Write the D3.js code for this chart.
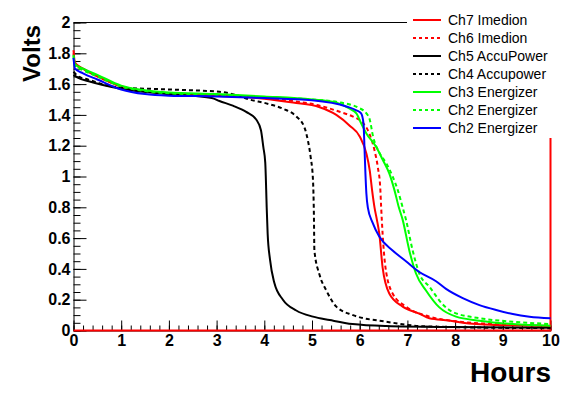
<!DOCTYPE html>
<html>
<head>
<meta charset="utf-8">
<script src="https://cdn.jsdelivr.net/npm/d3@7"></script>
<style>
  body { margin: 0; background: #fff; }
  svg text { font-family: "Liberation Sans", Arial, Helvetica, sans-serif; }
</style>
</head>
<body>
<svg id="chart" width="587" height="394"></svg>
<script>
// [hours, volts]
const ch7Imedion = [[0,1.82],[0.03,1.74],[0.2,1.70],[0.5,1.65],[1,1.585],[1.5,1.555],[2,1.54],[3,1.525],[4,1.505],[4.6,1.48],[5.16,1.45],[5.51,1.40],[5.79,1.33],[6.0,1.26],[6.14,1.15],[6.21,1.04],[6.26,0.91],[6.31,0.80],[6.36,0.72],[6.41,0.63],[6.48,0.41],[6.62,0.24],[6.90,0.155],[7.25,0.11],[7.46,0.08],[7.88,0.065],[8.16,0.05],[8.86,0.036],[10,0.03]];
const ch6Imedion = [[0,1.80],[0.03,1.73],[0.2,1.70],[0.5,1.65],[1,1.585],[1.5,1.555],[2,1.54],[3,1.53],[4,1.51],[4.6,1.49],[5.16,1.46],[5.58,1.42],[5.85,1.39],[6.06,1.35],[6.2,1.28],[6.31,1.17],[6.38,1.06],[6.43,0.93],[6.45,0.80],[6.48,0.63],[6.54,0.41],[6.69,0.24],[6.97,0.155],[7.46,0.09],[8,0.06],[9,0.04],[10,0.032]];
const ch5AccuPower = [[0,1.66],[0.1,1.64],[0.3,1.62],[1,1.57],[2,1.535],[2.9,1.51],[3.06,1.49],[3.34,1.46],[3.62,1.42],[3.83,1.37],[3.93,1.30],[3.98,1.19],[4.02,1.09],[4.04,0.91],[4.05,0.80],[4.07,0.63],[4.12,0.46],[4.21,0.31],[4.39,0.20],[4.67,0.13],[5.02,0.09],[5.37,0.068],[5.85,0.042],[6.56,0.029],[8,0.022],[10,0.018]];
const ch4Accupower = [[0,1.68],[0.1,1.65],[0.3,1.63],[0.9,1.58],[2,1.565],[3.06,1.55],[3.4,1.53],[3.69,1.50],[4.04,1.475],[4.39,1.44],[4.67,1.39],[4.84,1.32],[4.91,1.24],[4.97,1.13],[5.02,0.98],[5.04,0.75],[5.05,0.52],[5.16,0.36],[5.30,0.26],[5.51,0.155],[5.86,0.10],[6.56,0.057],[7.25,0.029],[8,0.022],[10,0.015]];
const ch3Energizer = [[0,1.79],[0.03,1.73],[0.2,1.70],[0.5,1.66],[1,1.59],[1.5,1.56],[2,1.545],[3,1.535],[4,1.52],[5,1.50],[5.5,1.48],[5.79,1.44],[5.93,1.41],[6.03,1.345],[6.14,1.28],[6.35,1.19],[6.48,1.11],[6.62,1.02],[6.73,0.91],[6.82,0.80],[6.90,0.72],[7.04,0.52],[7.18,0.37],[7.39,0.26],[7.67,0.15],[8.02,0.09],[8.51,0.064],[9.21,0.042],[10,0.031]];
const ch2EnergizerDot = [[0,1.78],[0.03,1.72],[0.2,1.69],[0.5,1.65],[1,1.585],[1.5,1.555],[2,1.54],[3,1.53],[4,1.515],[5,1.50],[5.6,1.48],[5.95,1.45],[6.14,1.41],[6.21,1.37],[6.28,1.26],[6.42,1.15],[6.56,1.085],[6.69,1.0],[6.8,0.91],[6.90,0.80],[6.97,0.72],[7.11,0.52],[7.25,0.37],[7.46,0.285],[7.74,0.17],[7.95,0.12],[8.51,0.08],[9.21,0.057],[10,0.042]];
const ch2Energizer = [[0,1.77],[0.03,1.70],[0.2,1.67],[0.5,1.63],[1,1.565],[1.5,1.535],[2,1.525],[3,1.52],[4,1.51],[5,1.495],[5.72,1.455],[5.93,1.43],[6.03,1.41],[6.08,1.345],[6.10,1.19],[6.12,1.02],[6.14,0.89],[6.17,0.80],[6.27,0.70],[6.41,0.61],[6.69,0.52],[6.97,0.45],[7.25,0.38],[7.60,0.32],[7.81,0.27],[8.16,0.21],[8.51,0.165],[8.86,0.133],[9.21,0.107],[9.56,0.09],[10,0.079]];
// red histogram edge along the bottom and right
const redEdge = [[0,0],[10,0],[10,1.25]];

const seriesNames = ['Ch7 Imedion','Ch6 Imedion','Ch5 AccuPower','Ch4 Accupower','Ch3 Energizer','Ch2 Energizer','Ch2 Energizer'];
const seriesData = [ch7Imedion, ch6Imedion, ch5AccuPower, ch4Accupower, ch3Energizer, ch2EnergizerDot, ch2Energizer];
const seriesColors = ['#ff0000','#ff0000','#000000','#000000','#00ff00','#00ff00','#0000ff'];
const seriesDashed = [false, true, false, true, false, true, false];
const xTicks = [0,1,2,3,4,5,6,7,8,9,10];
const yTicks = [0,0.2,0.4,0.6,0.8,1,1.2,1.4,1.6,1.8,2];

const svg = d3.select('#chart');
const m = { left: 73.5, right: 550.5, top: 22.5, bottom: 330.5 };

let x = d3.scaleLinear().domain([0, 10]).range([m.left, m.right]);
let y = d3.scaleLinear().domain([0, 2]).range([m.bottom, m.top]);

// top frame line (legend box covers the right part)
svg.append('line')
  .attr('x1', m.left).attr('x2', m.right)
  .attr('y1', m.top).attr('y2', m.top)
  .attr('stroke', '#000').attr('stroke-width', 1);

// minor ticks
svg.append('g').attr('transform', `translate(0,${m.bottom})`)
  .call(d3.axisBottom(x).tickValues(d3.range(0, 10.01, 0.2)).tickSize(-5).tickFormat(''))
  .call(g => g.select('.domain').remove());
svg.append('g').attr('transform', `translate(${m.left},0)`)
  .call(d3.axisLeft(y).tickValues(d3.range(0, 2.001, 0.05)).tickSize(-7).tickFormat(''))
  .call(g => g.select('.domain').remove());

// major ticks + labels
let xAxis = svg.append('g').attr('transform', `translate(0,${m.bottom})`)
  .call(d3.axisBottom(x).tickValues(xTicks).tickSizeInner(-10).tickSizeOuter(0).tickPadding(4).tickFormat(d3.format('d')));
let yAxis = svg.append('g').attr('transform', `translate(${m.left},0)`)
  .call(d3.axisLeft(y).tickValues(yTicks).tickSizeInner(-13).tickSizeOuter(0).tickPadding(3).tickFormat(d => d3.format('~g')(d)));

[xAxis, yAxis].forEach(a => {
  a.selectAll('text').attr('font-size', 16).attr('font-weight', 'bold').attr('fill', '#000')
    .attr('font-family', '"Liberation Sans", Arial, sans-serif');
  a.selectAll('line,path').attr('stroke', '#000');
});

let line = d3.line().x(d => x(d[0])).y(d => y(d[1]));
let smooth = d3.line().curve(d3.curveMonotoneX).x(d => x(d[0])).y(d => y(d[1]));

svg.append('path').datum(redEdge)
  .attr('d', line).attr('fill', 'none')
  .attr('stroke', '#ff0000').attr('stroke-width', 2);

svg.append('g').selectAll('path')
  .data(seriesData)
  .join('path')
  .attr('d', smooth)
  .attr('fill', 'none')
  .attr('stroke', (d, i) => seriesColors[i])
  .attr('stroke-width', 2)
  .attr('stroke-dasharray', (d, i) => seriesDashed[i] ? '4,3' : null);

// legend
let legend = svg.append('g');
legend.append('rect')
  .attr('x', 407).attr('y', 8).attr('width', 180).attr('height', 130)
  .attr('fill', '#fff');
seriesNames.forEach((name, i) => {
  let cy = 20 + i * 18;
  legend.append('line')
    .attr('x1', 413).attr('x2', 441).attr('y1', cy).attr('y2', cy)
    .attr('stroke', seriesColors[i]).attr('stroke-width', 2)
    .attr('stroke-dasharray', seriesDashed[i] ? '3,3' : null);
  legend.append('text')
    .attr('x', 448).attr('y', cy + 5)
    .attr('font-size', 14)
    .text(name);
});

// axis titles
svg.append('text')
  .attr('transform', 'translate(40,25) rotate(-90)')
  .attr('text-anchor', 'end')
  .attr('font-size', 24).attr('font-weight', 'bold')
  .text('Volts');
svg.append('text')
  .attr('x', 551).attr('y', 382)
  .attr('text-anchor', 'end')
  .attr('font-size', 28).attr('font-weight', 'bold')
  .text('Hours');
</script>
</body>
</html>
